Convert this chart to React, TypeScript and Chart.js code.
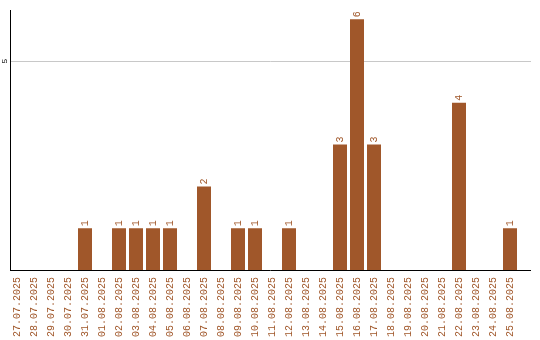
import React, { useEffect, useRef } from "react";
import { Chart, registerables } from "chart.js";

Chart.register(...registerables);

const categories = [
  "27.07.2025", "28.07.2025", "29.07.2025", "30.07.2025", "31.07.2025",
  "01.08.2025", "02.08.2025", "03.08.2025", "04.08.2025", "05.08.2025",
  "06.08.2025", "07.08.2025", "08.08.2025", "09.08.2025", "10.08.2025",
  "11.08.2025", "12.08.2025", "13.08.2025", "14.08.2025", "15.08.2025",
  "16.08.2025", "17.08.2025", "18.08.2025", "19.08.2025", "20.08.2025",
  "21.08.2025", "22.08.2025", "23.08.2025", "24.08.2025", "25.08.2025",
];
const values = [
  0, 0, 0, 0, 1,
  0, 1, 1, 1, 1,
  0, 2, 0, 1, 1,
  0, 1, 0, 0, 3,
  6, 3, 0, 0, 0,
  0, 4, 0, 0, 1,
];
const yTicks = [5];

const BROWN = "#a0572a";
const FONT = "'Liberation Mono', 'DejaVu Sans Mono', monospace";
const AXIS_LEFT = 10.5;
const AXIS_RIGHT = 531;

const axesPlugin = {
  id: "axesLines",
  beforeDatasetsDraw(chart: any) {
    const ctx = chart.ctx;
    const ys = chart.scales.y;
    ctx.save();
    ctx.strokeStyle = "#c8c8c8";
    ctx.lineWidth = 1;
    yTicks.forEach((t) => {
      const py = Math.round(ys.getPixelForValue(t)) + 0.5;
      ctx.beginPath();
      ctx.moveTo(AXIS_LEFT, py);
      ctx.lineTo(AXIS_RIGHT, py);
      ctx.stroke();
    });
    ctx.restore();
  },
  afterDatasetsDraw(chart: any) {
    const ctx = chart.ctx;
    const ys = chart.scales.y;
    const top = chart.chartArea.top;
    const bottom = Math.round(ys.getPixelForValue(0)) + 0.5;
    ctx.save();
    ctx.strokeStyle = "#000";
    ctx.lineWidth = 1;
    ctx.beginPath();
    ctx.moveTo(AXIS_LEFT, top);
    ctx.lineTo(AXIS_LEFT, bottom);
    ctx.moveTo(AXIS_LEFT - 0.5, bottom);
    ctx.lineTo(AXIS_RIGHT, bottom);
    ctx.stroke();

    // rotated value labels
    const meta = chart.getDatasetMeta(0);
    ctx.fillStyle = BROWN;
    ctx.font = `10px ${FONT}`;
    ctx.textAlign = "left";
    ctx.textBaseline = "middle";
    meta.data.forEach((bar: any, i: number) => {
      const v = values[i];
      if (!v) return;
      ctx.save();
      ctx.translate(bar.x, bar.y - 2);
      ctx.rotate(-Math.PI / 2);
      ctx.fillText(String(v), 0, 0);
      ctx.restore();
    });

    // rotated y tick labels
    ctx.fillStyle = "#000";
    ctx.font = `8px ${FONT}`;
    ctx.textAlign = "center";
    ctx.textBaseline = "middle";
    yTicks.forEach((t) => {
      const py = ys.getPixelForValue(t);
      ctx.save();
      ctx.translate(5, py);
      ctx.rotate(-Math.PI / 2);
      ctx.fillText(String(t), 0, 0);
      ctx.restore();
    });
    ctx.restore();
  },
};

export default function App() {
  const ref = useRef<HTMLCanvasElement>(null);
  useEffect(() => {
    document.body.style.margin = "0";
    const chart = new Chart(ref.current!, {
      type: "bar",
      data: {
        labels: categories,
        datasets: [
          {
            data: values,
            backgroundColor: BROWN,
            barPercentage: 14 / 17,
            categoryPercentage: 1,
          },
        ],
      },
      options: {
        animation: false,
        responsive: false,
        layout: { padding: { top: 10, right: 21.5, left: 0, bottom: 0 } },
        plugins: { legend: { display: false }, tooltip: { enabled: false } },
        scales: {
          x: {
            grid: { display: false, drawTicks: false },
            border: { display: false },
            ticks: {
              color: BROWN,
              font: { family: FONT, size: 10 },
              minRotation: 90,
              maxRotation: 90,
              autoSkip: false,
              padding: 7,
            },
            afterFit(scale: any) {
              scale.height = 70;
            },
          },
          y: {
            min: 0,
            max: 6.22,
            afterBuildTicks(scale: any) {
              scale.ticks = yTicks.map((v) => ({ value: v }));
            },
            grid: { display: false, drawTicks: false },
            border: { display: false },
            ticks: { display: false },
            afterFit(scale: any) {
              scale.width = 8.5;
            },
          },
        },
      },
      plugins: [axesPlugin],
    });
    return () => chart.destroy();
  }, []);
  return (
    <div style={{ width: 540, height: 340 }}>
      <canvas ref={ref} width={540} height={340} />
    </div>
  );
}
